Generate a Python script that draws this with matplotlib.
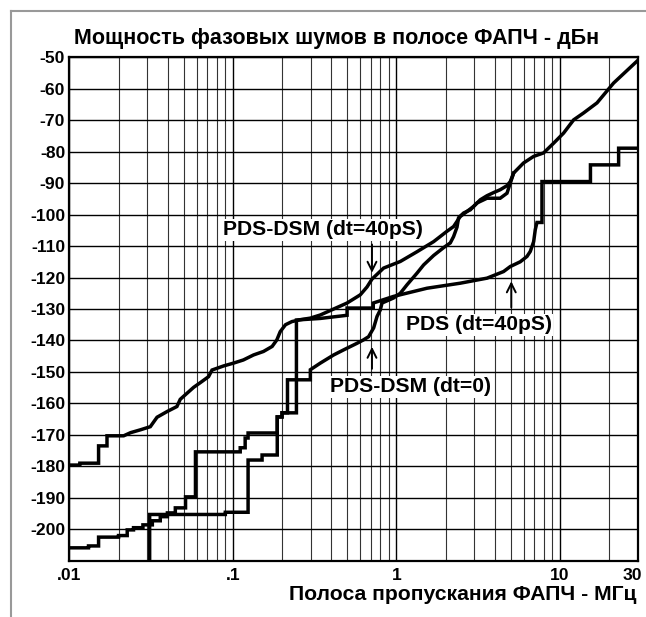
import matplotlib
matplotlib.use('Agg')
from matplotlib import pyplot as plt
from matplotlib.lines import Line2D
from matplotlib.ticker import LogLocator, NullFormatter
import matplotlib.transforms as mtransforms

# curve values (x in MHz, y in dBc)
dsm40_x = [0.01, 0.0116, 0.0116, 0.0151, 0.0151, 0.0170, 0.0170, 0.0215, 0.0237, 0.0272,
           0.0313, 0.0326, 0.0344, 0.0396, 0.0455, 0.0477, 0.0524, 0.0576, 0.0633, 0.0711,
           0.0746, 0.0878, 0.101, 0.116, 0.134, 0.154, 0.174, 0.186, 0.195, 0.210,
           0.230, 0.259, 0.298, 0.343, 0.414, 0.50, 0.602, 0.662, 0.71, 0.836,
           1.058, 1.339, 1.691, 2.042, 2.24, 2.462, 2.706, 2.971, 3.263, 3.587,
           3.94, 4.32, 4.755, 4.98, 5.22, 6.0, 6.92, 7.96, 9.17, 10.55,
           12.15, 13.98, 16.89, 21.33, 30]
dsm40_y = [-179.6, -179.6, -179.0, -179.0, -173.5, -173.5, -170.3, -170.3, -169.3, -168.4,
           -167.4, -166.1, -164.4, -162.6, -161.0, -158.7, -156.8, -154.9, -153.4, -151.5,
           -149.4, -148.1, -147.2, -146.2, -144.6, -143.5, -141.9, -139.8, -137.2, -135.0,
           -134.0, -133.4, -132.9, -131.9, -130.0, -128.1, -125.5, -123.0, -120.5, -117.0,
           -114.9, -111.8, -108.6, -105.3, -103.8, -100.6, -99.0, -97.4, -95.3, -94.0,
           -93.0, -92.1, -90.8, -89.5, -86.8, -83.6, -81.5, -80.4, -77.3, -74.1,
           -69.9, -67.7, -64.5, -58.2, -51.0]

dsm0_x = [0.01, 0.0131, 0.0131, 0.0151, 0.0151, 0.0200, 0.0200, 0.0226, 0.0226, 0.0247,
          0.0247, 0.0282, 0.0282, 0.0322, 0.0322, 0.036, 0.036, 0.0398, 0.0398, 0.0445,
          0.0445, 0.0514, 0.0514, 0.0591, 0.0591, 0.111, 0.111, 0.119, 0.119, 0.124,
          0.124, 0.187, 0.187, 0.200, 0.200, 0.216, 0.216, 0.298, 0.298, 0.343,
          0.414, 0.476, 0.575, 0.631, 0.677, 0.727, 0.762, 0.798, 0.818, 0.962,
          1.058, 1.163, 1.339, 1.469, 1.691, 1.947, 2.139, 2.24, 2.351, 2.404,
          2.58, 2.834, 3.117, 3.587, 4.32, 4.755, 4.98, 5.22]
dsm0_y = [-205.9, -205.9, -205.3, -205.3, -202.5, -202.5, -202.0, -202.0, -200.2, -200.2,
          -199.5, -199.5, -198.6, -198.6, -197.3, -197.3, -196.0, -196.0, -194.8, -194.8,
          -193.2, -193.2, -189.7, -189.7, -175.4, -175.4, -174.1, -174.1, -171.0, -171.0,
          -169.4, -169.4, -164.3, -164.3, -163.0, -163.0, -152.5, -152.5, -149.3, -147.2,
          -144.6, -143.0, -140.9, -139.8, -138.8, -136.0, -132.4, -130.3, -128.1, -126.5,
          -125.0, -122.3, -118.6, -116.0, -113.0, -110.5, -109.0, -107.0, -104.0, -101.0,
          -99.5, -98.5, -96.3, -94.8, -94.8, -93.2, -90.0, -86.8]

pds40_x = [0.031, 0.031, 0.09, 0.09, 0.124, 0.124, 0.151, 0.151, 0.187, 0.187,
           0.200, 0.200, 0.245, 0.245, 0.343, 0.50, 0.50, 0.723, 0.723, 0.962,
           1.541, 2.462, 3.587, 4.53, 4.98, 5.73, 6.30, 6.60, 6.92, 7.08,
           7.25, 7.78, 7.78, 15.4, 15.4, 22.9, 22.9, 30]
pds40_y = [-210, -195.3, -195.3, -194.6, -194.6, -178.0, -178.0, -176.4, -176.4, -164.3,
           -164.3, -163.0, -163.0, -133.5, -133.0, -132.0, -129.7, -129.7, -128.1, -126.0,
           -123.4, -121.8, -120.2, -118.1, -116.5, -115.0, -113.3, -111.7, -108.6, -104.8,
           -102.5, -102.5, -89.5, -89.5, -84.2, -84.2, -78.9, -78.9]

x_ticks = [0.01, 0.1, 1, 10, 30]
x_tick_labels = ['.01', '.1', '1', '10', '30']
y_ticks = list(range(-200, -49, 10))

title = 'Мощность фазовых шумов в полосе ФАПЧ - дБн'
x_title = 'Полоса пропускания ФАПЧ - МГц'

plt.rcParams['font.family'] = ['Liberation Sans', 'DejaVu Sans']
plt.rcParams['font.weight'] = 'bold'
plt.rcParams['axes.unicode_minus'] = False

fig = plt.figure(figsize=(6.46, 6.17), dpi=100)
ax = fig.add_axes([0.1073, 0.0912, 0.880, 0.816])

ax.set_xscale('log')
ax.set_xlim(0.01, 30)
ax.set_ylim(-210, -50)

ax.set_xticks(x_ticks)
ax.set_xticklabels(x_tick_labels)
ax.xaxis.set_minor_locator(LogLocator(base=10, subs=range(2, 10)))
ax.xaxis.set_minor_formatter(NullFormatter())
ax.set_yticks(y_ticks)
ax.tick_params(which='both', length=0, labelsize=12.6)
ax.tick_params(axis='y', pad=3)
ax.tick_params(axis='x', pad=5)
# keep "30" inside the picture like the original
lab30 = ax.get_xticklabels()[-1]
lab30.set_transform(lab30.get_transform() + mtransforms.ScaledTranslation(-0.05, 0, fig.dpi_scale_trans))

ax.grid(which='major', color='black', lw=1.0)
ax.grid(which='minor', axis='x', color='#333333', lw=0.8)
ax.set_axisbelow(True)
for s in ax.spines.values():
    s.set_linewidth(1.6)

# the three curves
for xs, ys in [(dsm40_x, dsm40_y), (dsm0_x, dsm0_y), (pds40_x, pds40_y)]:
    ax.plot(xs, ys, color='black', lw=2.5, solid_joinstyle='miter')

# labels with arrows
box = dict(facecolor='white', edgecolor='none', pad=1)
ax.text(0.358, -104.8, 'PDS-DSM (dt=40pS)', ha='center', va='center', fontsize=15.2, bbox=box)
ax.text(1.22, -154.7, 'PDS-DSM (dt=0)', ha='center', va='center', fontsize=15.2, bbox=box)
ax.text(3.2, -135.0, 'PDS (dt=40pS)', ha='center', va='center', fontsize=15.2, bbox=box)
arw = dict(arrowstyle='->', color='black', lw=1.4, mutation_scale=16, shrinkA=0, shrinkB=0)
ax.annotate('', xy=(0.71, -118.5), xytext=(0.71, -109.5), arrowprops=arw)
ax.annotate('', xy=(0.71, -142.0), xytext=(0.71, -149.0), arrowprops=arw)
ax.annotate('', xy=(5.05, -121.2), xytext=(5.05, -129.5), arrowprops=arw)

fig.text(74 / 646, 0.938, title, ha='left', va='center', fontsize=15.5)
fig.text(0.985, 0.036, x_title, ha='right', va='center', fontsize=15.2)

# grey frame lines at the top and left of the picture
fig.add_artist(Line2D([11 / 646, 11 / 646], [0, 1 - 11 / 617], color='#999999', lw=1.5))
fig.add_artist(Line2D([11 / 646, 1], [1 - 11 / 617, 1 - 11 / 617], color='#999999', lw=1.5))

fig.savefig('out.png', dpi=100)
